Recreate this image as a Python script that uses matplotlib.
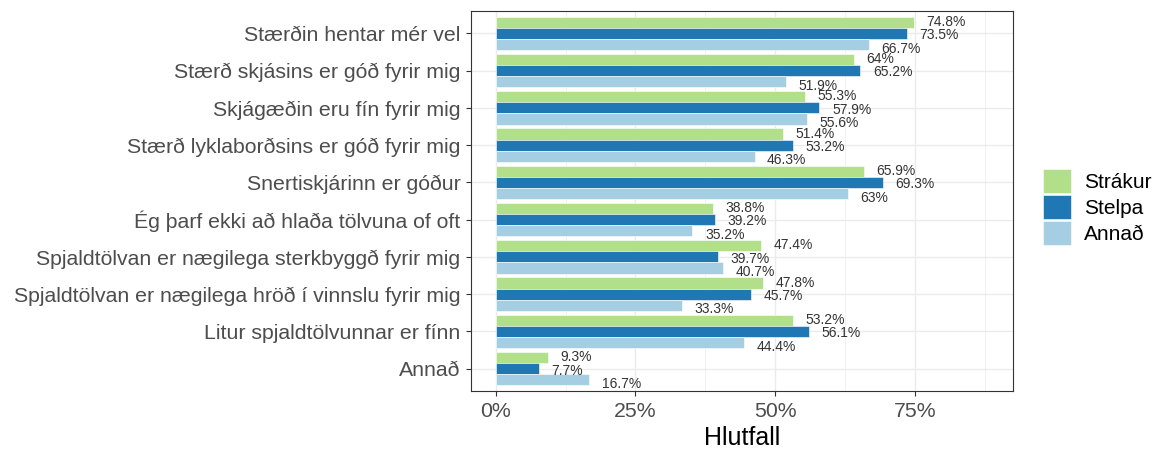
import matplotlib.pyplot as plt
import numpy as np

plt.rcParams['font.family'] = ['Liberation Sans', 'DejaVu Sans']

categories = ["Stærðin hentar mér vel",
              "Stærð skjásins er góð fyrir mig",
              "Skjágæðin eru fín fyrir mig",
              "Stærð lyklaborðsins er góð fyrir mig",
              "Snertiskjárinn er góður",
              "Ég þarf ekki að hlaða tölvuna of oft",
              "Spjaldtölvan er nægilega sterkbyggð fyrir mig",
              "Spjaldtölvan er nægilega hröð í vinnslu fyrir mig",
              "Litur spjaldtölvunnar er fínn",
              "Annað"]
groups = ["Strákur", "Stelpa", "Annað"]
strakur = [74.8, 64, 55.3, 51.4, 65.9, 38.8, 47.4, 47.8, 53.2, 9.3]
stelpa = [73.5, 65.2, 57.9, 53.2, 69.3, 39.2, 39.7, 45.7, 56.1, 7.7]
annad = [66.7, 51.9, 55.6, 46.3, 63, 35.2, 40.7, 33.3, 44.4, 16.7]
colours = ["#b2df8a", "#1f78b4", "#a6cee3"]

W, H = 1163, 450
fig = plt.figure(figsize=(W / 100, H / 100), dpi=100)
# panel box in pixels: left 471, right 1013, top 11, bottom 391
ax = fig.add_axes([471 / W, (H - 391) / H, (1013 - 471) / W, (391 - 11) / H])

n = len(categories)
ypos = np.arange(n)[::-1] + 1  # first category on top
bw = 0.3
offsets = [bw, 0, -bw]

for vals, col, off, name in zip([strakur, stelpa, annad], colours, offsets, groups):
    ax.barh(ypos + off, vals, height=bw, color=col, edgecolor="white",
            linewidth=0.4, label=name, zorder=2)
    for y, v in zip(ypos, vals):
        lab = ("%g" % v) + "%"
        ax.annotate(lab, (v, y + off * 1.2 - 0.05), xytext=(9, 0), textcoords="offset points",
                    ha="left", va="center", fontsize=10, color="#333333", zorder=3)

ax.set_xlim(-4.4, 92.5)
ax.set_ylim(0.4, 10.6)
ax.set_xticks([0, 25, 50, 75])
ax.set_xticklabels(["0%", "25%", "50%", "75%"])
ax.set_xticks([12.5, 37.5, 62.5, 87.5], minor=True)
ax.set_yticks(ypos)
ax.set_yticklabels(categories)
ax.tick_params(axis="both", which="major", colors="#333333", labelcolor="#4d4d4d",
               labelsize=15.3, length=3.6, width=0.8, pad=4)
ax.tick_params(axis="x", which="minor", length=0)
ax.grid(which="major", color="#ebebeb", linewidth=1.0, zorder=0)
ax.grid(which="minor", axis="x", color="#ebebeb", linewidth=0.5, zorder=0)
ax.set_axisbelow(True)
for s in ax.spines.values():
    s.set_color("#333333")
    s.set_linewidth(0.8)
ax.set_xlabel("Hlutfall", fontsize=18, color="black", labelpad=4)

ax.legend(loc="center left", bbox_to_anchor=(1043 / W, (H - 207) / H),
          bbox_transform=fig.transFigure, frameon=False, borderpad=0, borderaxespad=0,
          fontsize=15, handlelength=1.35, handleheight=1.35, handletextpad=0.6,
          labelspacing=0.12)

fig.savefig("out.png", dpi=100)
